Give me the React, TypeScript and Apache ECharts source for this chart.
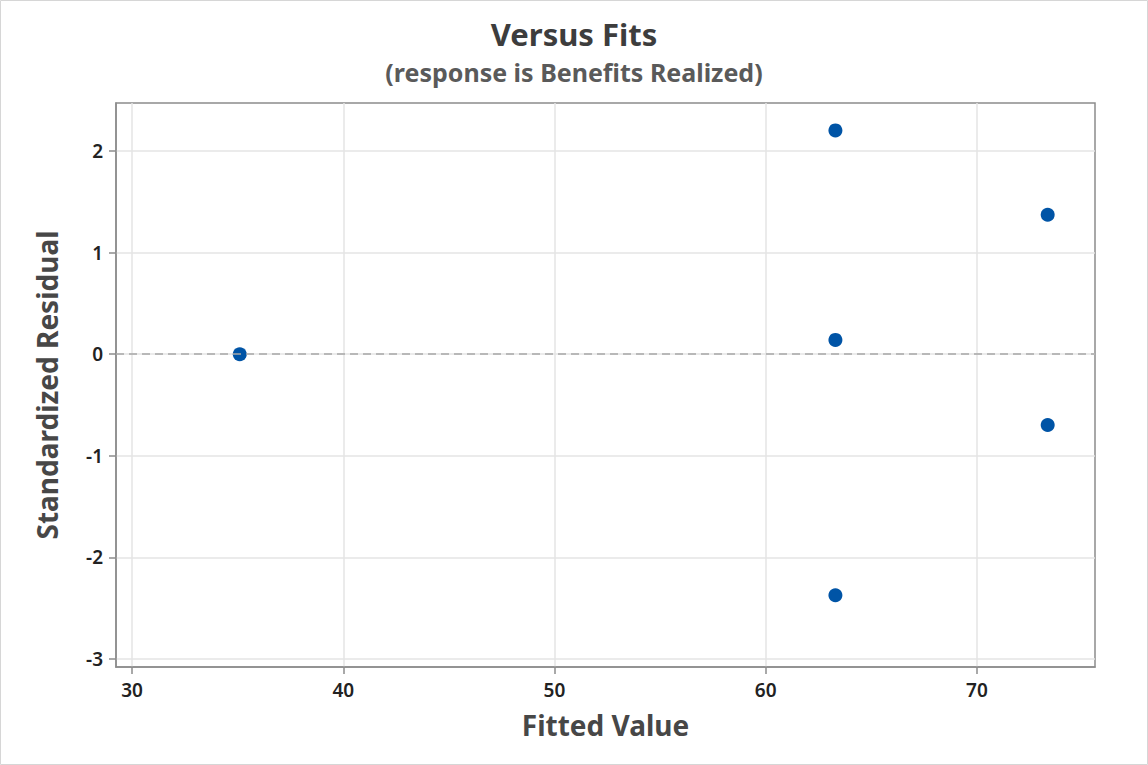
import React, { useEffect, useRef } from "react";
import * as echarts from "echarts";

const fittedValues = [35.1, 63.3, 63.3, 63.3, 73.35, 73.35];
const stdResiduals = [0.0, 2.205, 0.141, -2.374, 1.374, -0.697];
const xTicks = [30, 40, 50, 60, 70];
const yTicks = [-3, -2, -1, 0, 1, 2];

const FONT = "'Noto Sans', 'Open Sans', sans-serif";

export default function App() {
  const ref = useRef<HTMLDivElement>(null);
  useEffect(() => {
    document.body.style.margin = "0";
    if (!ref.current) return;
    const chart = echarts.init(ref.current, undefined, { renderer: "svg" });
    const points = fittedValues.map((x, i) => [x, stdResiduals[i]]);
    chart.setOption({
      animation: false,
      backgroundColor: "#ffffff",
      textStyle: { fontFamily: FONT },
      title: [
        {
          text: "Versus Fits",
          left: "center",
          top: 18,
          padding: 0,
          textStyle: { fontFamily: FONT, fontSize: 31, lineHeight: 31, fontWeight: "bold", color: "#3d3d3d" },
        },
        {
          text: "(response is Benefits Realized)",
          left: "center",
          top: 59,
          padding: 0,
          textStyle: { fontFamily: FONT, fontSize: 25, lineHeight: 25, fontWeight: "bold", color: "#5a5a5a" },
        },
      ],
      graphic: [
        {
          type: "rect",
          shape: { x: 0.5, y: 0.5, width: 1147, height: 764 },
          style: { fill: "none", stroke: "#d6d6d6", lineWidth: 1 },
          silent: true,
        },
      ],
      grid: {
        left: 116,
        top: 103,
        right: 53,
        bottom: 98,
        show: true,
        borderColor: "#8c8c8c",
        borderWidth: 1.5,
        backgroundColor: "transparent",
      },
      xAxis: {
        type: "value",
        min: 29.24,
        max: 75.59,
        name: "Fitted Value",
        nameLocation: "middle",
        nameGap: 44,
        nameTextStyle: { fontFamily: FONT, fontSize: 28, fontWeight: "bold", color: "#474747" },
        axisLine: { show: true, onZero: false, lineStyle: { color: "#8c8c8c", width: 1.5 } },
        axisTick: { show: true, length: 7, lineStyle: { color: "#8c8c8c", width: 1.5 }, customValues: xTicks },
        axisLabel: {
          customValues: xTicks,
          margin: 13,
          fontFamily: FONT,
          fontSize: 19,
          fontWeight: 600,
          color: "#222222",
        },
        splitLine: { show: true, lineStyle: { color: "#e5e5e5", width: 1.5 } },
      },
      yAxis: {
        type: "value",
        min: -3.081,
        max: 2.475,
        name: "Standardized Residual",
        nameLocation: "middle",
        nameGap: 55,
        nameTextStyle: { fontFamily: FONT, fontSize: 28, fontWeight: "bold", color: "#474747" },
        axisLine: { show: true, onZero: false, lineStyle: { color: "#8c8c8c", width: 1.5 } },
        axisTick: { show: true, length: 7, lineStyle: { color: "#8c8c8c", width: 1.5 }, customValues: yTicks },
        axisLabel: {
          customValues: yTicks,
          margin: 13,
          fontFamily: FONT,
          fontSize: 19,
          fontWeight: 600,
          color: "#222222",
        },
        splitLine: { show: true, lineStyle: { color: "#e5e5e5", width: 1.5 } },
      },
      series: [
        {
          type: "scatter",
          data: points,
          symbol: "circle",
          symbolSize: 14,
          itemStyle: { color: "#0054a6", opacity: 1 },
          markLine: {
            silent: true,
            symbol: "none",
            label: { show: false },
            lineStyle: { color: "#a8a8a8", type: [8, 5], width: 1.5 },
            data: [{ yAxis: 0 }],
          },
          z: 3,
        },
      ],
    });
    return () => chart.dispose();
  }, []);
  return <div ref={ref} style={{ width: 1148, height: 765 }} />;
}
